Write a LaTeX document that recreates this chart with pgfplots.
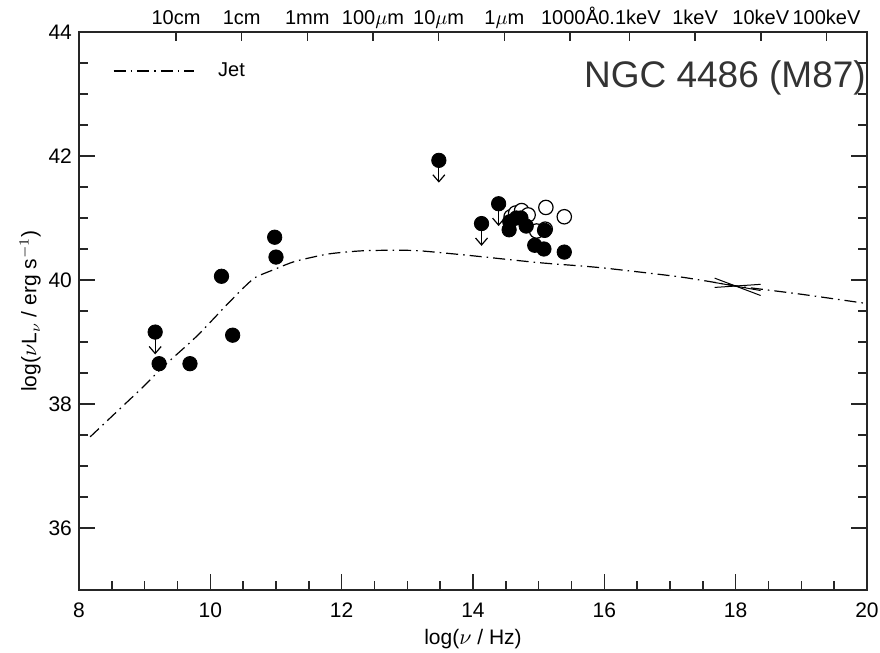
\documentclass[border=0pt]{standalone}
\usepackage{fontspec}
\setmainfont{Liberation Sans}
\usepackage{pgfplots}
\pgfplotsset{compat=1.18}
\usetikzlibrary{arrows.meta}

\begin{document}
\begin{tikzpicture}[font=\fontsize{10.5}{12}\selectfont]
\begin{axis}[name=ax,
    scale only axis, width=394pt, height=279pt,
    xmin=8, xmax=20, ymin=35, ymax=44,
    xtick={8,10,...,20}, ytick={36,38,...,44},
    minor tick num=3,
    xtick pos=left, ytick pos=both,
    tick align=inside,
    major tick length=8pt, minor tick length=4.5pt,
    axis line style={black!85, line width=0.8pt},
    tick style={black!85, line width=0.7pt},
    /pgf/number format/assume math mode=true,
    xticklabel style={yshift=-3pt},
    xlabel={log($\nu$ / Hz)},
    ylabel={log($\nu$L$_\nu$ / erg s$^{-1}$)},
    xlabel style={yshift=1pt},
    ylabel style={yshift=-3pt},
    legend style={draw=none, fill=none, at={(axis description cs:0.035,0.93)}, anchor=west,
      font=\fontsize{10}{12}\selectfont},
    legend image code/.code={\draw[#1] (0pt,0pt) -- (40pt,0pt);},
    clip=false,
]
% jet model
\addplot[black, line width=0.6pt, dash pattern=on 6pt off 2.5pt on 0.8pt off 2.5pt, smooth, tension=0.4] coordinates {
 (8.17,37.47) (8.6,37.9) (9.0,38.3) (9.28,38.6) (9.79,39.09) (10.25,39.6)
 (10.55,39.92) (10.70,40.05) (10.95,40.16) (11.29,40.30) (11.8,40.42)
 (12.3,40.47) (12.8,40.48) (13.2,40.47) (14.0,40.39) (15.0,40.28)
 (15.93,40.20) (17.15,40.05) (18.04,39.90) (19.0,39.77) (20.0,39.62)
};
\addlegendentry{\hspace{10pt}Jet}
% X-ray bowtie
\addplot[black, line width=0.5pt, forget plot] coordinates {(17.68,40.03) (18.38,39.75)};
\addplot[black, line width=0.5pt, forget plot] coordinates {(17.68,39.96) (18.38,39.83)};
\addplot[black, line width=0.5pt, forget plot] coordinates {(17.68,39.88) (18.38,39.93)};
% upper-limit arrows
\addplot[black, line width=0.6pt, forget plot, quiver={u=0, v=-0.36},
  -{Straight Barb[length=3.5pt, width=6pt]}] coordinates {
 (9.16,39.16) (13.48,41.93) (14.13,40.91) (14.39,41.23)
};
% open circles
\addplot[only marks, mark=*, mark size=3.6pt, mark options={fill=white, draw=black, line width=0.6pt}, forget plot] coordinates {
 (14.58,41.02) (14.65,41.08) (14.74,41.12) (14.84,41.05)
 (14.97,40.79) (15.10,40.82) (15.11,41.17) (15.39,41.02)
};
% filled circles
\addplot[only marks, mark=*, mark size=3.6pt, mark options={fill=black, draw=black}, forget plot] coordinates {
 (9.16,39.16) (9.22,38.65) (9.69,38.65) (10.17,40.06) (10.34,39.11)
 (10.98,40.69) (11.0,40.37) (13.48,41.93) (14.13,40.91) (14.39,41.23)
 (14.55,40.81) (14.56,40.94) (14.66,41.0) (14.73,41.0) (14.81,40.87)
 (15.09,40.8) (14.94,40.56) (15.08,40.5) (15.39,40.45)
};
\node[anchor=north east, inner sep=0pt, text=black!80, font=\fontsize{18.5}{21}\selectfont]
  at (rel axis cs:0.999,0.95) {NGC 4486 (M87)};
\end{axis}
\begin{axis}[
    scale only axis, width=394pt, height=279pt,
    xmin=8, xmax=20, ymin=35, ymax=44,
    axis x line*=top, axis y line=none,
    axis line style={-, black!85, line width=0.8pt},
    tick align=inside, major tick length=4.5pt,
    tick style={black!85, line width=0.7pt},
    minor xtick={},
    xtick={9.477,10.477,11.477,12.477,13.477,14.477,15.477,16.383,17.383,18.383,19.383},
    xticklabels={10cm,1cm,1mm,100$\mu$m,10$\mu$m,1$\mu$m,1000Å,0.1keV,1keV,10keV,100keV},
    typeset ticklabels with strut,
    xticklabel style={inner sep=1pt, yshift=-1pt, font=\fontsize{10}{12}\selectfont},
]
\end{axis}
\pgfresetboundingbox
\path ([xshift=-39.5pt,yshift=-31.5pt]ax.south west) rectangle ([xshift=6.5pt,yshift=16pt]ax.north east);
\end{tikzpicture}
\end{document}
